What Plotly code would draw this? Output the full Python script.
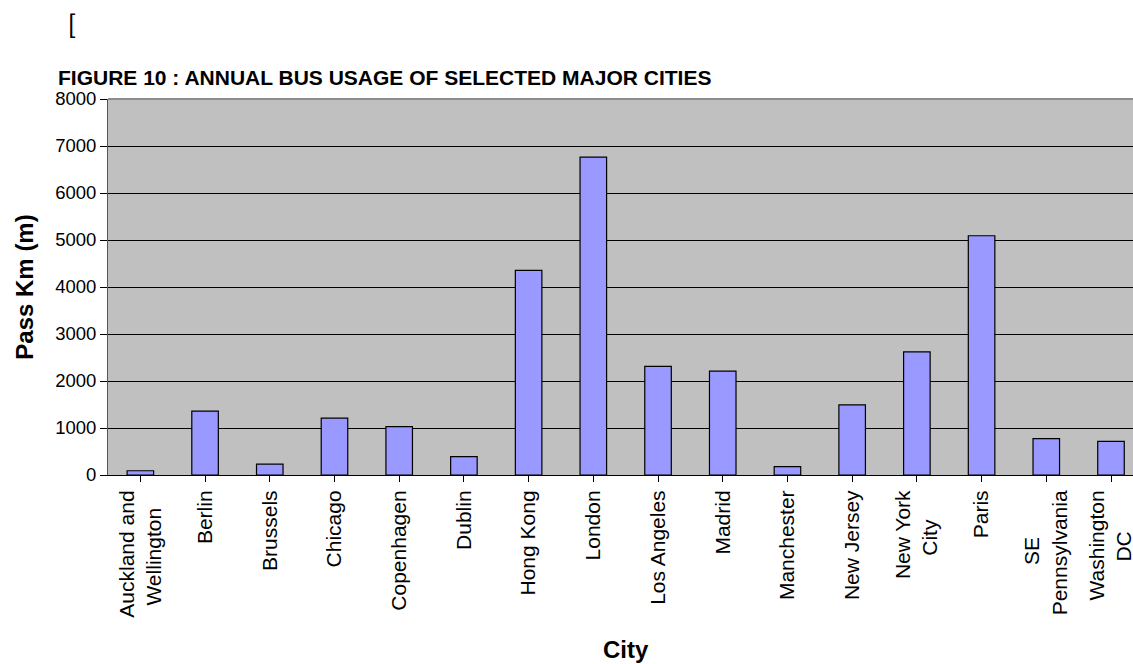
import plotly.graph_objects as go

cities = [["Auckland and", "Wellington"], ["Berlin"], ["Brussels"], ["Chicago"], ["Copenhagen"],
          ["Dublin"], ["Hong Kong"], ["London"], ["Los Angeles"], ["Madrid"], ["Manchester"],
          ["New Jersey"], ["New York", "City"], ["Paris"], ["SE", "Pennsylvania"], ["Washington", "DC"]]
pass_km = [90, 1360, 230, 1210, 1030, 390, 4355, 6765, 2310, 2210, 180, 1490, 2620, 5090, 775, 715]

y_ticks = [0, 1000, 2000, 3000, 4000, 5000, 6000, 7000, 8000]

FONT = "Liberation Sans, Arial, sans-serif"

# Arial advance widths (per 1000 em) used to centre the lines of multi-line rotated labels
_W = {" ": 278, "A": 667, "B": 667, "C": 722, "D": 722, "E": 667, "H": 722, "J": 500, "K": 667,
      "L": 556, "M": 833, "N": 722, "P": 667, "S": 667, "W": 944, "Y": 667, "a": 556, "b": 556,
      "c": 500, "d": 556, "e": 556, "g": 556, "h": 556, "i": 222, "k": 500, "l": 222, "m": 833,
      "n": 556, "o": 556, "p": 556, "r": 333, "s": 500, "t": 278, "u": 556, "v": 500, "w": 722,
      "y": 500}


def _width(s):
    return sum(_W.get(ch, 556) for ch in s)


def centred_label(lines):
    if len(lines) == 1:
        return lines[0]
    mw = max(_width(l) for l in lines)
    out = []
    for l in lines:
        n = int(round((mw - _width(l)) / 2 / 278))
        out.append(l + "\u00a0" * n)
    return "<br>".join(out)


ticktext = [centred_label(c) for c in cities]

fig = go.Figure(go.Bar(
    x=list(range(len(cities))),
    y=pass_km,
    marker=dict(color="#9999FF", line=dict(color="#000000", width=1.2)),
    width=0.41,
))

fig.update_layout(
    width=1133, height=664,
    margin=dict(l=108, r=0, t=99, b=189, autoexpand=False),
    paper_bgcolor="white",
    plot_bgcolor="#C0C0C0",
    showlegend=False,
    font=dict(family=FONT, color="black"),
    title=dict(text="<b>FIGURE 10 : ANNUAL BUS USAGE OF SELECTED MAJOR CITIES</b>",
               font=dict(family=FONT, size=21, color="black"),
               x=58/1133, xref="container", xanchor="left",
               y=1-78/664, yref="container", yanchor="middle"),
    xaxis=dict(
        tickmode="array", tickvals=list(range(len(cities))), ticktext=ticktext,
        range=[-0.5, 15.34], tickangle=-90,
        tickfont=dict(family=FONT, size=21, color="black"),
        ticklabeloverflow="allow",
        showgrid=False, zeroline=False,
        showline=True, linecolor="black", linewidth=1,
        ticks="outside", ticklen=6, tickcolor="black", tickson="boundaries",
        automargin=False,
    ),
    yaxis=dict(
        range=[0, 8000], tickvals=y_ticks,
        tickfont=dict(family=FONT, size=18.5, color="black"),
        showgrid=True, gridcolor="black", gridwidth=1,
        zeroline=False, showline=True, linecolor="#555555", linewidth=1,
        ticks="outside", ticklen=7, tickcolor="black",
        title=dict(text="<b>Pass Km (m)</b>", font=dict(family=FONT, size=24, color="black"), standoff=14),
        automargin=False,
    ),
    shapes=[dict(type="line", xref="paper", yref="paper", x0=0, x1=1, y0=1, y1=1,
                 line=dict(color="#8C8C8C", width=2))],
    annotations=[
        dict(text="[", xref="paper", yref="paper",
             x=(66-108)/1025, y=(475-25)/376, xanchor="left", yanchor="middle",
             showarrow=False, font=dict(family="Carlito, DejaVu Sans, sans-serif", size=28, color="black")),
        dict(text="<b>City</b>", xref="paper", yref="paper",
             x=(626-108)/1025, y=(475-649)/376, xanchor="center", yanchor="middle",
             showarrow=False, font=dict(family=FONT, size=24, color="black")),
    ],
)

fig.write_html("out.html")
